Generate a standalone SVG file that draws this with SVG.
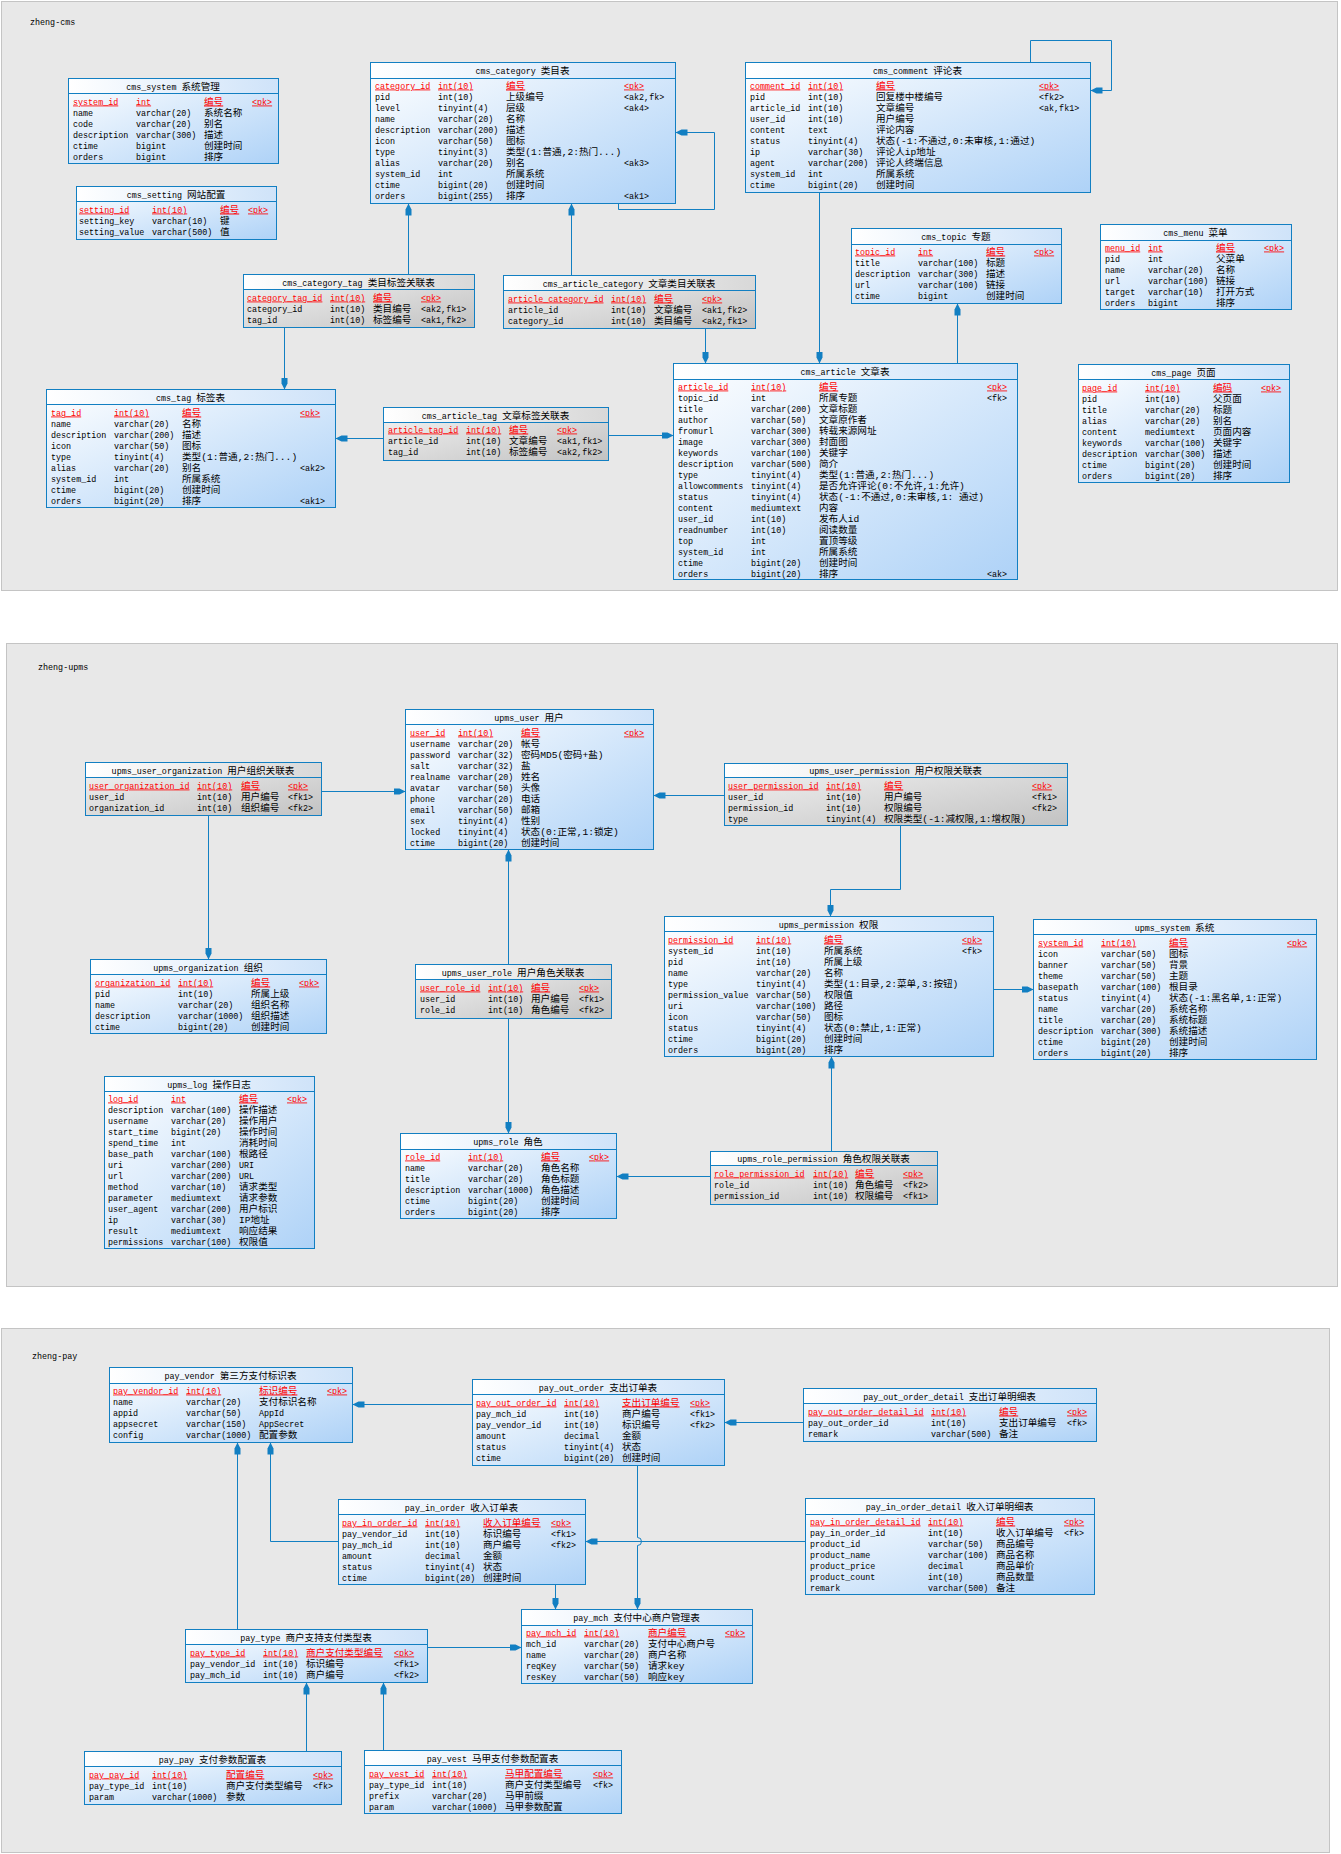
<svg xmlns="http://www.w3.org/2000/svg" width="1341" height="1854" viewBox="0 0 1341 1854">
<defs>
<linearGradient id="hB" x1="0" y1="0" x2="1" y2="0"><stop offset="0" stop-color="#ffffff"/><stop offset="1" stop-color="#cfe3f9"/></linearGradient>
<linearGradient id="bB" x1="0" y1="0" x2="1" y2="1"><stop offset="0" stop-color="#ffffff"/><stop offset="1" stop-color="#aed2f7"/></linearGradient>
<linearGradient id="hG" x1="0" y1="0" x2="1" y2="0"><stop offset="0" stop-color="#ffffff"/><stop offset="1" stop-color="#d8d8d8"/></linearGradient>
<linearGradient id="bG" x1="0" y1="0" x2="1" y2="1"><stop offset="0" stop-color="#f4f4f4"/><stop offset="1" stop-color="#c2c2c2"/></linearGradient>
<marker id="ar" markerUnits="userSpaceOnUse" markerWidth="12" markerHeight="8" viewBox="0 0 12 8" refX="12" refY="4" orient="auto"><path d="M12,4 L6,1 L0,1 L0,7 L6,7 Z" fill="#127fc2"/></marker>
</defs>
<style>
text{font-family:"Liberation Mono","Noto Sans CJK SC",monospace;font-size:8.4px;fill:#000}
.k{font-size:9.6px}
.pk{fill:#ff0000;text-decoration:underline}
.hd{text-anchor:middle}
.panel{fill:#e8e8e8;stroke:#c4c4c4;stroke-width:1}
.ob{fill:none;stroke:#127fc2;stroke-width:1}
.sep{stroke:#127fc2;stroke-width:1}
.c{fill:none;stroke:#127fc2;stroke-width:1;marker-end:url(#ar)}
</style>
<rect width="1341" height="1854" fill="#ffffff"/>
<g id="panels">
<rect class="panel" x="1.5" y="1.5" width="1336" height="589"/>
<rect class="panel" x="6.5" y="643.5" width="1331" height="643"/>
<rect class="panel" x="1.5" y="1328.5" width="1328" height="524"/>
<text x="30" y="25">zheng-cms</text>
<text x="38" y="670">zheng-upms</text>
<text x="32" y="1359">zheng-pay</text>
</g>

<g id="connectors">
<path class="c" d="M618.5,203 V209.5 H714.5 V132.5 H675.5"/>
<path class="c" d="M408.5,274 V203.5"/>
<path class="c" d="M571.5,275 V203.5"/>
<path class="c" d="M284.5,327 V389.5"/>
<path class="c" d="M705.5,328 V363.5"/>
<path class="c" d="M383,438.5 H335.5"/>
<path class="c" d="M608,435.5 H673.5"/>
<path class="c" d="M819.5,192 V363.5"/>
<path class="c" d="M957.5,363 V303.5"/>
<path class="c" d="M1030.5,62 V40.5 H1111.5 V90.5 H1090.5"/>

<path class="c" d="M321,791.5 H405.5"/>
<path class="c" d="M208.5,815 V959.5"/>
<path class="c" d="M724,795.5 H653.5"/>
<path class="c" d="M900.5,825 V889.5 H830.5 V916.5"/>
<path class="c" d="M993,989.5 H1033.5"/>
<path class="c" d="M508.5,964 V849.5"/>
<path class="c" d="M508.5,1018 V1133.5"/>
<path class="c" d="M831.5,1151 V1056.5"/>
<path class="c" d="M710,1176.5 H616.5"/>

<path class="c" d="M472,1404.5 H352.5"/>
<path class="c" d="M803,1422.5 H724.5"/>
<path class="c" d="M338,1541.5 H270.5 V1442.5"/>
<path class="c" d="M805,1541.5 H585.5"/>
<path class="c" d="M637.5,1465 V1537.5 A4,4 0 0 1 637.5,1545.5 V1609.5"/>
<path class="c" d="M555.5,1584 V1609.5"/>
<path class="c" d="M237.5,1629 V1442.5"/>
<path class="c" d="M427,1647.5 H521.5"/>
<path class="c" d="M306.5,1751 V1682.5"/>
<path class="c" d="M383.5,1750 V1682.5"/>
</g>

<!-- ===== zheng-cms ===== -->
<g id="cms_system">
<rect x="68.5" y="78.5" width="210" height="85" fill="url(#bB)"/><rect x="68.5" y="78.5" width="210" height="15" fill="url(#hB)"/><rect class="ob" x="68.5" y="78.5" width="210" height="85"/><line class="sep" x1="68.5" y1="93.5" x2="278.5" y2="93.5"/>
<text class="hd" x="173" y="89.5">cms_system <tspan class="k">系统管理</tspan></text>
<text class="pk" y="104.5"><tspan x="73">system_id</tspan><tspan x="136">int</tspan><tspan x="204" class="k">编号</tspan><tspan x="252">&lt;pk&gt;</tspan></text>
<text y="115.5"><tspan x="73">name</tspan><tspan x="136">varchar(20)</tspan><tspan x="204" class="k">系统名称</tspan></text>
<text y="126.5"><tspan x="73">code</tspan><tspan x="136">varchar(20)</tspan><tspan x="204" class="k">别名</tspan></text>
<text y="137.5"><tspan x="73">description</tspan><tspan x="136">varchar(300)</tspan><tspan x="204" class="k">描述</tspan></text>
<text y="148.5"><tspan x="73">ctime</tspan><tspan x="136">bigint</tspan><tspan x="204" class="k">创建时间</tspan></text>
<text y="159.5"><tspan x="73">orders</tspan><tspan x="136">bigint</tspan><tspan x="204" class="k">排序</tspan></text>
</g>

<g id="cms_setting">
<rect x="76.5" y="186.5" width="200" height="53" fill="url(#bB)"/><rect x="76.5" y="186.5" width="200" height="15" fill="url(#hB)"/><rect class="ob" x="76.5" y="186.5" width="200" height="53"/><line class="sep" x1="76.5" y1="201.5" x2="276.5" y2="201.5"/>
<text class="hd" x="176" y="197.5">cms_setting <tspan class="k">网站配置</tspan></text>
<text class="pk" y="212.5"><tspan x="79">setting_id</tspan><tspan x="152">int(10)</tspan><tspan x="220" class="k">编号</tspan><tspan x="248">&lt;pk&gt;</tspan></text>
<text y="223.5"><tspan x="79">setting_key</tspan><tspan x="152">varchar(10)</tspan><tspan x="220" class="k">键</tspan></text>
<text y="234.5"><tspan x="79">setting_value</tspan><tspan x="152">varchar(500)</tspan><tspan x="220" class="k">值</tspan></text>
</g>

<g id="cms_category">
<rect x="370.5" y="62.5" width="305" height="141" fill="url(#bB)"/><rect x="370.5" y="62.5" width="305" height="16" fill="url(#hB)"/><rect class="ob" x="370.5" y="62.5" width="305" height="141"/><line class="sep" x1="370.5" y1="78.5" x2="675.5" y2="78.5"/>
<text class="hd" x="522.5" y="74">cms_category <tspan class="k">类目表</tspan></text>
<text class="pk" y="88.5"><tspan x="375">category_id</tspan><tspan x="438">int(10)</tspan><tspan x="506" class="k">编号</tspan><tspan x="624">&lt;pk&gt;</tspan></text>
<text y="99.5"><tspan x="375">pid</tspan><tspan x="438">int(10)</tspan><tspan x="506" class="k">上级编号</tspan><tspan x="624">&lt;ak2,fk&gt;</tspan></text>
<text y="110.5"><tspan x="375">level</tspan><tspan x="438">tinyint(4)</tspan><tspan x="506" class="k">层级</tspan><tspan x="624">&lt;ak4&gt;</tspan></text>
<text y="121.5"><tspan x="375">name</tspan><tspan x="438">varchar(20)</tspan><tspan x="506" class="k">名称</tspan></text>
<text y="132.5"><tspan x="375">description</tspan><tspan x="438">varchar(200)</tspan><tspan x="506" class="k">描述</tspan></text>
<text y="143.5"><tspan x="375">icon</tspan><tspan x="438">varchar(50)</tspan><tspan x="506" class="k">图标</tspan></text>
<text y="154.5"><tspan x="375">type</tspan><tspan x="438">tinyint(3)</tspan><tspan x="506" class="k">类型(1:普通,2:热门...)</tspan></text>
<text y="165.5"><tspan x="375">alias</tspan><tspan x="438">varchar(20)</tspan><tspan x="506" class="k">别名</tspan><tspan x="624">&lt;ak3&gt;</tspan></text>
<text y="176.5"><tspan x="375">system_id</tspan><tspan x="438">int</tspan><tspan x="506" class="k">所属系统</tspan></text>
<text y="187.5"><tspan x="375">ctime</tspan><tspan x="438">bigint(20)</tspan><tspan x="506" class="k">创建时间</tspan></text>
<text y="198.5"><tspan x="375">orders</tspan><tspan x="438">bigint(255)</tspan><tspan x="506" class="k">排序</tspan><tspan x="624">&lt;ak1&gt;</tspan></text>
</g>

<g id="cms_comment">
<rect x="745.5" y="62.5" width="345" height="130" fill="url(#bB)"/><rect x="745.5" y="62.5" width="345" height="16" fill="url(#hB)"/><rect class="ob" x="745.5" y="62.5" width="345" height="130"/><line class="sep" x1="745.5" y1="78.5" x2="1090.5" y2="78.5"/>
<text class="hd" x="917.5" y="74">cms_comment <tspan class="k">评论表</tspan></text>
<text class="pk" y="88.5"><tspan x="750">comment_id</tspan><tspan x="808">int(10)</tspan><tspan x="876" class="k">编号</tspan><tspan x="1039">&lt;pk&gt;</tspan></text>
<text y="99.5"><tspan x="750">pid</tspan><tspan x="808">int(10)</tspan><tspan x="876" class="k">回复楼中楼编号</tspan><tspan x="1039">&lt;fk2&gt;</tspan></text>
<text y="110.5"><tspan x="750">article_id</tspan><tspan x="808">int(10)</tspan><tspan x="876" class="k">文章编号</tspan><tspan x="1039">&lt;ak,fk1&gt;</tspan></text>
<text y="121.5"><tspan x="750">user_id</tspan><tspan x="808">int(10)</tspan><tspan x="876" class="k">用户编号</tspan></text>
<text y="132.5"><tspan x="750">content</tspan><tspan x="808">text</tspan><tspan x="876" class="k">评论内容</tspan></text>
<text y="143.5"><tspan x="750">status</tspan><tspan x="808">tinyint(4)</tspan><tspan x="876" class="k">状态(-1:不通过,0:未审核,1:通过)</tspan></text>
<text y="154.5"><tspan x="750">ip</tspan><tspan x="808">varchar(30)</tspan><tspan x="876" class="k">评论人ip地址</tspan></text>
<text y="165.5"><tspan x="750">agent</tspan><tspan x="808">varchar(200)</tspan><tspan x="876" class="k">评论人终端信息</tspan></text>
<text y="176.5"><tspan x="750">system_id</tspan><tspan x="808">int</tspan><tspan x="876" class="k">所属系统</tspan></text>
<text y="187.5"><tspan x="750">ctime</tspan><tspan x="808">bigint(20)</tspan><tspan x="876" class="k">创建时间</tspan></text>
</g>

<g id="cms_topic">
<rect x="851.5" y="228.5" width="210" height="75" fill="url(#bB)"/><rect x="851.5" y="228.5" width="210" height="16" fill="url(#hB)"/><rect class="ob" x="851.5" y="228.5" width="210" height="75"/><line class="sep" x1="851.5" y1="244.5" x2="1061.5" y2="244.5"/>
<text class="hd" x="956" y="240">cms_topic <tspan class="k">专题</tspan></text>
<text class="pk" y="254.5"><tspan x="855">topic_id</tspan><tspan x="918">int</tspan><tspan x="986" class="k">编号</tspan><tspan x="1034">&lt;pk&gt;</tspan></text>
<text y="265.5"><tspan x="855">title</tspan><tspan x="918">varchar(100)</tspan><tspan x="986" class="k">标题</tspan></text>
<text y="276.5"><tspan x="855">description</tspan><tspan x="918">varchar(300)</tspan><tspan x="986" class="k">描述</tspan></text>
<text y="287.5"><tspan x="855">url</tspan><tspan x="918">varchar(100)</tspan><tspan x="986" class="k">链接</tspan></text>
<text y="298.5"><tspan x="855">ctime</tspan><tspan x="918">bigint</tspan><tspan x="986" class="k">创建时间</tspan></text>
</g>

<g id="cms_menu">
<rect x="1100.5" y="224.5" width="191" height="85" fill="url(#bB)"/><rect x="1100.5" y="224.5" width="191" height="16" fill="url(#hB)"/><rect class="ob" x="1100.5" y="224.5" width="191" height="85"/><line class="sep" x1="1100.5" y1="240.5" x2="1291.5" y2="240.5"/>
<text class="hd" x="1195.5" y="236">cms_menu <tspan class="k">菜单</tspan></text>
<text class="pk" y="250.5"><tspan x="1105">menu_id</tspan><tspan x="1148">int</tspan><tspan x="1216" class="k">编号</tspan><tspan x="1264">&lt;pk&gt;</tspan></text>
<text y="261.5"><tspan x="1105">pid</tspan><tspan x="1148">int</tspan><tspan x="1216" class="k">父菜单</tspan></text>
<text y="272.5"><tspan x="1105">name</tspan><tspan x="1148">varchar(20)</tspan><tspan x="1216" class="k">名称</tspan></text>
<text y="283.5"><tspan x="1105">url</tspan><tspan x="1148">varchar(100)</tspan><tspan x="1216" class="k">链接</tspan></text>
<text y="294.5"><tspan x="1105">target</tspan><tspan x="1148">varchar(10)</tspan><tspan x="1216" class="k">打开方式</tspan></text>
<text y="305.5"><tspan x="1105">orders</tspan><tspan x="1148">bigint</tspan><tspan x="1216" class="k">排序</tspan></text>
</g>

<g id="cms_category_tag">
<rect x="243.5" y="274.5" width="231" height="53" fill="url(#bG)"/><rect x="243.5" y="274.5" width="231" height="15" fill="url(#hG)"/><rect class="ob" x="243.5" y="274.5" width="231" height="53"/><line class="sep" x1="243.5" y1="289.5" x2="474.5" y2="289.5"/>
<text class="hd" x="358.5" y="285.5">cms_category_tag <tspan class="k">类目标签关联表</tspan></text>
<text class="pk" y="300.5"><tspan x="247">category_tag_id</tspan><tspan x="330">int(10)</tspan><tspan x="373" class="k">编号</tspan><tspan x="421">&lt;pk&gt;</tspan></text>
<text y="311.5"><tspan x="247">category_id</tspan><tspan x="330">int(10)</tspan><tspan x="373" class="k">类目编号</tspan><tspan x="421">&lt;ak2,fk1&gt;</tspan></text>
<text y="322.5"><tspan x="247">tag_id</tspan><tspan x="330">int(10)</tspan><tspan x="373" class="k">标签编号</tspan><tspan x="421">&lt;ak1,fk2&gt;</tspan></text>
</g>

<g id="cms_article_category">
<rect x="503.5" y="275.5" width="252" height="53" fill="url(#bG)"/><rect x="503.5" y="275.5" width="252" height="15" fill="url(#hG)"/><rect class="ob" x="503.5" y="275.5" width="252" height="53"/><line class="sep" x1="503.5" y1="290.5" x2="755.5" y2="290.5"/>
<text class="hd" x="629" y="286.5">cms_article_category <tspan class="k">文章类目关联表</tspan></text>
<text class="pk" y="301.5"><tspan x="508">article_category_id</tspan><tspan x="611">int(10)</tspan><tspan x="654" class="k">编号</tspan><tspan x="702">&lt;pk&gt;</tspan></text>
<text y="312.5"><tspan x="508">article_id</tspan><tspan x="611">int(10)</tspan><tspan x="654" class="k">文章编号</tspan><tspan x="702">&lt;ak1,fk2&gt;</tspan></text>
<text y="323.5"><tspan x="508">category_id</tspan><tspan x="611">int(10)</tspan><tspan x="654" class="k">类目编号</tspan><tspan x="702">&lt;ak2,fk1&gt;</tspan></text>
</g>

<g id="cms_tag">
<rect x="46.5" y="389.5" width="289" height="118" fill="url(#bB)"/><rect x="46.5" y="389.5" width="289" height="15" fill="url(#hB)"/><rect class="ob" x="46.5" y="389.5" width="289" height="118"/><line class="sep" x1="46.5" y1="404.5" x2="335.5" y2="404.5"/>
<text class="hd" x="190.5" y="400.5">cms_tag <tspan class="k">标签表</tspan></text>
<text class="pk" y="415.5"><tspan x="51">tag_id</tspan><tspan x="114">int(10)</tspan><tspan x="182" class="k">编号</tspan><tspan x="300">&lt;pk&gt;</tspan></text>
<text y="426.5"><tspan x="51">name</tspan><tspan x="114">varchar(20)</tspan><tspan x="182" class="k">名称</tspan></text>
<text y="437.5"><tspan x="51">description</tspan><tspan x="114">varchar(200)</tspan><tspan x="182" class="k">描述</tspan></text>
<text y="448.5"><tspan x="51">icon</tspan><tspan x="114">varchar(50)</tspan><tspan x="182" class="k">图标</tspan></text>
<text y="459.5"><tspan x="51">type</tspan><tspan x="114">tinyint(4)</tspan><tspan x="182" class="k">类型(1:普通,2:热门...)</tspan></text>
<text y="470.5"><tspan x="51">alias</tspan><tspan x="114">varchar(20)</tspan><tspan x="182" class="k">别名</tspan><tspan x="300">&lt;ak2&gt;</tspan></text>
<text y="481.5"><tspan x="51">system_id</tspan><tspan x="114">int</tspan><tspan x="182" class="k">所属系统</tspan></text>
<text y="492.5"><tspan x="51">ctime</tspan><tspan x="114">bigint(20)</tspan><tspan x="182" class="k">创建时间</tspan></text>
<text y="503.5"><tspan x="51">orders</tspan><tspan x="114">bigint(20)</tspan><tspan x="182" class="k">排序</tspan><tspan x="300">&lt;ak1&gt;</tspan></text>
</g>

<g id="cms_article_tag">
<rect x="383.5" y="407.5" width="225" height="53" fill="url(#bG)"/><rect x="383.5" y="407.5" width="225" height="15" fill="url(#hG)"/><rect class="ob" x="383.5" y="407.5" width="225" height="53"/><line class="sep" x1="383.5" y1="422.5" x2="608.5" y2="422.5"/>
<text class="hd" x="495.5" y="418.5">cms_article_tag <tspan class="k">文章标签关联表</tspan></text>
<text class="pk" y="432.5"><tspan x="388">article_tag_id</tspan><tspan x="466">int(10)</tspan><tspan x="509" class="k">编号</tspan><tspan x="557">&lt;pk&gt;</tspan></text>
<text y="443.5"><tspan x="388">article_id</tspan><tspan x="466">int(10)</tspan><tspan x="509" class="k">文章编号</tspan><tspan x="557">&lt;ak1,fk1&gt;</tspan></text>
<text y="454.5"><tspan x="388">tag_id</tspan><tspan x="466">int(10)</tspan><tspan x="509" class="k">标签编号</tspan><tspan x="557">&lt;ak2,fk2&gt;</tspan></text>
</g>

<g id="cms_article">
<rect x="673.5" y="363.5" width="344" height="216" fill="url(#bB)"/><rect x="673.5" y="363.5" width="344" height="16" fill="url(#hB)"/><rect class="ob" x="673.5" y="363.5" width="344" height="216"/><line class="sep" x1="673.5" y1="379.5" x2="1017.5" y2="379.5"/>
<text class="hd" x="845" y="375">cms_article <tspan class="k">文章表</tspan></text>
<text class="pk" y="389.5"><tspan x="678">article_id</tspan><tspan x="751">int(10)</tspan><tspan x="819" class="k">编号</tspan><tspan x="987">&lt;pk&gt;</tspan></text>
<text y="400.5"><tspan x="678">topic_id</tspan><tspan x="751">int</tspan><tspan x="819" class="k">所属专题</tspan><tspan x="987">&lt;fk&gt;</tspan></text>
<text y="411.5"><tspan x="678">title</tspan><tspan x="751">varchar(200)</tspan><tspan x="819" class="k">文章标题</tspan></text>
<text y="422.5"><tspan x="678">author</tspan><tspan x="751">varchar(50)</tspan><tspan x="819" class="k">文章原作者</tspan></text>
<text y="433.5"><tspan x="678">fromurl</tspan><tspan x="751">varchar(300)</tspan><tspan x="819" class="k">转载来源网址</tspan></text>
<text y="444.5"><tspan x="678">image</tspan><tspan x="751">varchar(300)</tspan><tspan x="819" class="k">封面图</tspan></text>
<text y="455.5"><tspan x="678">keywords</tspan><tspan x="751">varchar(100)</tspan><tspan x="819" class="k">关键字</tspan></text>
<text y="466.5"><tspan x="678">description</tspan><tspan x="751">varchar(500)</tspan><tspan x="819" class="k">简介</tspan></text>
<text y="477.5"><tspan x="678">type</tspan><tspan x="751">tinyint(4)</tspan><tspan x="819" class="k">类型(1:普通,2:热门...)</tspan></text>
<text y="488.5"><tspan x="678">allowcomments</tspan><tspan x="751">tinyint(4)</tspan><tspan x="819" class="k">是否允许评论(0:不允许,1:允许)</tspan></text>
<text y="499.5"><tspan x="678">status</tspan><tspan x="751">tinyint(4)</tspan><tspan x="819" class="k">状态(-1:不通过,0:未审核,1: 通过)</tspan></text>
<text y="510.5"><tspan x="678">content</tspan><tspan x="751">mediumtext</tspan><tspan x="819" class="k">内容</tspan></text>
<text y="521.5"><tspan x="678">user_id</tspan><tspan x="751">int(10)</tspan><tspan x="819" class="k">发布人id</tspan></text>
<text y="532.5"><tspan x="678">readnumber</tspan><tspan x="751">int(10)</tspan><tspan x="819" class="k">阅读数量</tspan></text>
<text y="543.5"><tspan x="678">top</tspan><tspan x="751">int</tspan><tspan x="819" class="k">置顶等级</tspan></text>
<text y="554.5"><tspan x="678">system_id</tspan><tspan x="751">int</tspan><tspan x="819" class="k">所属系统</tspan></text>
<text y="565.5"><tspan x="678">ctime</tspan><tspan x="751">bigint(20)</tspan><tspan x="819" class="k">创建时间</tspan></text>
<text y="576.5"><tspan x="678">orders</tspan><tspan x="751">bigint(20)</tspan><tspan x="819" class="k">排序</tspan><tspan x="987">&lt;ak&gt;</tspan></text>
</g>

<g id="cms_page">
<rect x="1078.5" y="364.5" width="211" height="118" fill="url(#bB)"/><rect x="1078.5" y="364.5" width="211" height="15" fill="url(#hB)"/><rect class="ob" x="1078.5" y="364.5" width="211" height="118"/><line class="sep" x1="1078.5" y1="379.5" x2="1289.5" y2="379.5"/>
<text class="hd" x="1183.5" y="375.5">cms_page <tspan class="k">页面</tspan></text>
<text class="pk" y="390.5"><tspan x="1082">page_id</tspan><tspan x="1145">int(10)</tspan><tspan x="1213" class="k">编码</tspan><tspan x="1261">&lt;pk&gt;</tspan></text>
<text y="401.5"><tspan x="1082">pid</tspan><tspan x="1145">int(10)</tspan><tspan x="1213" class="k">父页面</tspan></text>
<text y="412.5"><tspan x="1082">title</tspan><tspan x="1145">varchar(20)</tspan><tspan x="1213" class="k">标题</tspan></text>
<text y="423.5"><tspan x="1082">alias</tspan><tspan x="1145">varchar(20)</tspan><tspan x="1213" class="k">别名</tspan></text>
<text y="434.5"><tspan x="1082">content</tspan><tspan x="1145">mediumtext</tspan><tspan x="1213" class="k">页面内容</tspan></text>
<text y="445.5"><tspan x="1082">keywords</tspan><tspan x="1145">varchar(100)</tspan><tspan x="1213" class="k">关键字</tspan></text>
<text y="456.5"><tspan x="1082">description</tspan><tspan x="1145">varchar(300)</tspan><tspan x="1213" class="k">描述</tspan></text>
<text y="467.5"><tspan x="1082">ctime</tspan><tspan x="1145">bigint(20)</tspan><tspan x="1213" class="k">创建时间</tspan></text>
<text y="478.5"><tspan x="1082">orders</tspan><tspan x="1145">bigint(20)</tspan><tspan x="1213" class="k">排序</tspan></text>
</g>

<!-- ===== zheng-upms ===== -->
<g id="upms_user">
<rect x="405.5" y="709.5" width="248" height="140" fill="url(#bB)"/><rect x="405.5" y="709.5" width="248" height="15" fill="url(#hB)"/><rect class="ob" x="405.5" y="709.5" width="248" height="140"/><line class="sep" x1="405.5" y1="724.5" x2="653.5" y2="724.5"/>
<text class="hd" x="529" y="720.5">upms_user <tspan class="k">用户</tspan></text>
<text class="pk" y="735.5"><tspan x="410">user_id</tspan><tspan x="458">int(10)</tspan><tspan x="521" class="k">编号</tspan><tspan x="624">&lt;pk&gt;</tspan></text>
<text y="746.5"><tspan x="410">username</tspan><tspan x="458">varchar(20)</tspan><tspan x="521" class="k">帐号</tspan></text>
<text y="757.5"><tspan x="410">password</tspan><tspan x="458">varchar(32)</tspan><tspan x="521" class="k">密码MD5(密码+盐)</tspan></text>
<text y="768.5"><tspan x="410">salt</tspan><tspan x="458">varchar(32)</tspan><tspan x="521" class="k">盐</tspan></text>
<text y="779.5"><tspan x="410">realname</tspan><tspan x="458">varchar(20)</tspan><tspan x="521" class="k">姓名</tspan></text>
<text y="790.5"><tspan x="410">avatar</tspan><tspan x="458">varchar(50)</tspan><tspan x="521" class="k">头像</tspan></text>
<text y="801.5"><tspan x="410">phone</tspan><tspan x="458">varchar(20)</tspan><tspan x="521" class="k">电话</tspan></text>
<text y="812.5"><tspan x="410">email</tspan><tspan x="458">varchar(50)</tspan><tspan x="521" class="k">邮箱</tspan></text>
<text y="823.5"><tspan x="410">sex</tspan><tspan x="458">tinyint(4)</tspan><tspan x="521" class="k">性别</tspan></text>
<text y="834.5"><tspan x="410">locked</tspan><tspan x="458">tinyint(4)</tspan><tspan x="521" class="k">状态(0:正常,1:锁定)</tspan></text>
<text y="845.5"><tspan x="410">ctime</tspan><tspan x="458">bigint(20)</tspan><tspan x="521" class="k">创建时间</tspan></text>
</g>

<g id="upms_user_organization">
<rect x="85.5" y="762.5" width="236" height="53" fill="url(#bG)"/><rect x="85.5" y="762.5" width="236" height="15" fill="url(#hG)"/><rect class="ob" x="85.5" y="762.5" width="236" height="53"/><line class="sep" x1="85.5" y1="777.5" x2="321.5" y2="777.5"/>
<text class="hd" x="203" y="773.5">upms_user_organization <tspan class="k">用户组织关联表</tspan></text>
<text class="pk" y="788.5"><tspan x="89">user_organization_id</tspan><tspan x="197">int(10)</tspan><tspan x="241" class="k">编号</tspan><tspan x="288">&lt;pk&gt;</tspan></text>
<text y="799.5"><tspan x="89">user_id</tspan><tspan x="197">int(10)</tspan><tspan x="241" class="k">用户编号</tspan><tspan x="288">&lt;fk1&gt;</tspan></text>
<text y="810.5"><tspan x="89">organization_id</tspan><tspan x="197">int(10)</tspan><tspan x="241" class="k">组织编号</tspan><tspan x="288">&lt;fk2&gt;</tspan></text>
</g>

<g id="upms_user_permission">
<rect x="724.5" y="763.5" width="343" height="62" fill="url(#bG)"/><rect x="724.5" y="763.5" width="343" height="14" fill="url(#hG)"/><rect class="ob" x="724.5" y="763.5" width="343" height="62"/><line class="sep" x1="724.5" y1="777.5" x2="1067.5" y2="777.5"/>
<text class="hd" x="895.5" y="774">upms_user_permission <tspan class="k">用户权限关联表</tspan></text>
<text class="pk" y="788.5"><tspan x="728">user_permission_id</tspan><tspan x="826">int(10)</tspan><tspan x="884" class="k">编号</tspan><tspan x="1032">&lt;pk&gt;</tspan></text>
<text y="799.5"><tspan x="728">user_id</tspan><tspan x="826">int(10)</tspan><tspan x="884" class="k">用户编号</tspan><tspan x="1032">&lt;fk1&gt;</tspan></text>
<text y="810.5"><tspan x="728">permission_id</tspan><tspan x="826">int(10)</tspan><tspan x="884" class="k">权限编号</tspan><tspan x="1032">&lt;fk2&gt;</tspan></text>
<text y="821.5"><tspan x="728">type</tspan><tspan x="826">tinyint(4)</tspan><tspan x="884" class="k">权限类型(-1:减权限,1:增权限)</tspan></text>
</g>

<g id="upms_permission">
<rect x="664.5" y="916.5" width="329" height="140" fill="url(#bB)"/><rect x="664.5" y="916.5" width="329" height="15" fill="url(#hB)"/><rect class="ob" x="664.5" y="916.5" width="329" height="140"/><line class="sep" x1="664.5" y1="931.5" x2="993.5" y2="931.5"/>
<text class="hd" x="828.5" y="927.5">upms_permission <tspan class="k">权限</tspan></text>
<text class="pk" y="942.5"><tspan x="668">permission_id</tspan><tspan x="756">int(10)</tspan><tspan x="824" class="k">编号</tspan><tspan x="962">&lt;pk&gt;</tspan></text>
<text y="953.5"><tspan x="668">system_id</tspan><tspan x="756">int(10)</tspan><tspan x="824" class="k">所属系统</tspan><tspan x="962">&lt;fk&gt;</tspan></text>
<text y="964.5"><tspan x="668">pid</tspan><tspan x="756">int(10)</tspan><tspan x="824" class="k">所属上级</tspan></text>
<text y="975.5"><tspan x="668">name</tspan><tspan x="756">varchar(20)</tspan><tspan x="824" class="k">名称</tspan></text>
<text y="986.5"><tspan x="668">type</tspan><tspan x="756">tinyint(4)</tspan><tspan x="824" class="k">类型(1:目录,2:菜单,3:按钮)</tspan></text>
<text y="997.5"><tspan x="668">permission_value</tspan><tspan x="756">varchar(50)</tspan><tspan x="824" class="k">权限值</tspan></text>
<text y="1008.5"><tspan x="668">uri</tspan><tspan x="756">varchar(100)</tspan><tspan x="824" class="k">路径</tspan></text>
<text y="1019.5"><tspan x="668">icon</tspan><tspan x="756">varchar(50)</tspan><tspan x="824" class="k">图标</tspan></text>
<text y="1030.5"><tspan x="668">status</tspan><tspan x="756">tinyint(4)</tspan><tspan x="824" class="k">状态(0:禁止,1:正常)</tspan></text>
<text y="1041.5"><tspan x="668">ctime</tspan><tspan x="756">bigint(20)</tspan><tspan x="824" class="k">创建时间</tspan></text>
<text y="1052.5"><tspan x="668">orders</tspan><tspan x="756">bigint(20)</tspan><tspan x="824" class="k">排序</tspan></text>
</g>

<g id="upms_system">
<rect x="1033.5" y="919.5" width="283" height="140" fill="url(#bB)"/><rect x="1033.5" y="919.5" width="283" height="15" fill="url(#hB)"/><rect class="ob" x="1033.5" y="919.5" width="283" height="140"/><line class="sep" x1="1033.5" y1="934.5" x2="1316.5" y2="934.5"/>
<text class="hd" x="1174.5" y="930.5">upms_system <tspan class="k">系统</tspan></text>
<text class="pk" y="945.5"><tspan x="1038">system_id</tspan><tspan x="1101">int(10)</tspan><tspan x="1169" class="k">编号</tspan><tspan x="1287">&lt;pk&gt;</tspan></text>
<text y="956.5"><tspan x="1038">icon</tspan><tspan x="1101">varchar(50)</tspan><tspan x="1169" class="k">图标</tspan></text>
<text y="967.5"><tspan x="1038">banner</tspan><tspan x="1101">varchar(50)</tspan><tspan x="1169" class="k">背景</tspan></text>
<text y="978.5"><tspan x="1038">theme</tspan><tspan x="1101">varchar(50)</tspan><tspan x="1169" class="k">主题</tspan></text>
<text y="989.5"><tspan x="1038">basepath</tspan><tspan x="1101">varchar(100)</tspan><tspan x="1169" class="k">根目录</tspan></text>
<text y="1000.5"><tspan x="1038">status</tspan><tspan x="1101">tinyint(4)</tspan><tspan x="1169" class="k">状态(-1:黑名单,1:正常)</tspan></text>
<text y="1011.5"><tspan x="1038">name</tspan><tspan x="1101">varchar(20)</tspan><tspan x="1169" class="k">系统名称</tspan></text>
<text y="1022.5"><tspan x="1038">title</tspan><tspan x="1101">varchar(20)</tspan><tspan x="1169" class="k">系统标题</tspan></text>
<text y="1033.5"><tspan x="1038">description</tspan><tspan x="1101">varchar(300)</tspan><tspan x="1169" class="k">系统描述</tspan></text>
<text y="1044.5"><tspan x="1038">ctime</tspan><tspan x="1101">bigint(20)</tspan><tspan x="1169" class="k">创建时间</tspan></text>
<text y="1055.5"><tspan x="1038">orders</tspan><tspan x="1101">bigint(20)</tspan><tspan x="1169" class="k">排序</tspan></text>
</g>

<g id="upms_organization">
<rect x="90.5" y="959.5" width="236" height="74" fill="url(#bB)"/><rect x="90.5" y="959.5" width="236" height="15" fill="url(#hB)"/><rect class="ob" x="90.5" y="959.5" width="236" height="74"/><line class="sep" x1="90.5" y1="974.5" x2="326.5" y2="974.5"/>
<text class="hd" x="208" y="970.5">upms_organization <tspan class="k">组织</tspan></text>
<text class="pk" y="985.5"><tspan x="95">organization_id</tspan><tspan x="178">int(10)</tspan><tspan x="251" class="k">编号</tspan><tspan x="299">&lt;pk&gt;</tspan></text>
<text y="996.5"><tspan x="95">pid</tspan><tspan x="178">int(10)</tspan><tspan x="251" class="k">所属上级</tspan></text>
<text y="1007.5"><tspan x="95">name</tspan><tspan x="178">varchar(20)</tspan><tspan x="251" class="k">组织名称</tspan></text>
<text y="1018.5"><tspan x="95">description</tspan><tspan x="178">varchar(1000)</tspan><tspan x="251" class="k">组织描述</tspan></text>
<text y="1029.5"><tspan x="95">ctime</tspan><tspan x="178">bigint(20)</tspan><tspan x="251" class="k">创建时间</tspan></text>
</g>

<g id="upms_user_role">
<rect x="415.5" y="964.5" width="196" height="54" fill="url(#bG)"/><rect x="415.5" y="964.5" width="196" height="15" fill="url(#hG)"/><rect class="ob" x="415.5" y="964.5" width="196" height="54"/><line class="sep" x1="415.5" y1="979.5" x2="611.5" y2="979.5"/>
<text class="hd" x="513" y="975.5">upms_user_role <tspan class="k">用户角色关联表</tspan></text>
<text class="pk" y="990.5"><tspan x="420">user_role_id</tspan><tspan x="488">int(10)</tspan><tspan x="531" class="k">编号</tspan><tspan x="579">&lt;pk&gt;</tspan></text>
<text y="1001.5"><tspan x="420">user_id</tspan><tspan x="488">int(10)</tspan><tspan x="531" class="k">用户编号</tspan><tspan x="579">&lt;fk1&gt;</tspan></text>
<text y="1012.5"><tspan x="420">role_id</tspan><tspan x="488">int(10)</tspan><tspan x="531" class="k">角色编号</tspan><tspan x="579">&lt;fk2&gt;</tspan></text>
</g>

<g id="upms_log">
<rect x="104.5" y="1076.5" width="210" height="172" fill="url(#bB)"/><rect x="104.5" y="1076.5" width="210" height="15" fill="url(#hB)"/><rect class="ob" x="104.5" y="1076.5" width="210" height="172"/><line class="sep" x1="104.5" y1="1091.5" x2="314.5" y2="1091.5"/>
<text class="hd" x="209" y="1087.5">upms_log <tspan class="k">操作日志</tspan></text>
<text class="pk" y="1101.5"><tspan x="108">log_id</tspan><tspan x="171">int</tspan><tspan x="239" class="k">编号</tspan><tspan x="287">&lt;pk&gt;</tspan></text>
<text y="1112.5"><tspan x="108">description</tspan><tspan x="171">varchar(100)</tspan><tspan x="239" class="k">操作描述</tspan></text>
<text y="1123.5"><tspan x="108">username</tspan><tspan x="171">varchar(20)</tspan><tspan x="239" class="k">操作用户</tspan></text>
<text y="1134.5"><tspan x="108">start_time</tspan><tspan x="171">bigint(20)</tspan><tspan x="239" class="k">操作时间</tspan></text>
<text y="1145.5"><tspan x="108">spend_time</tspan><tspan x="171">int</tspan><tspan x="239" class="k">消耗时间</tspan></text>
<text y="1156.5"><tspan x="108">base_path</tspan><tspan x="171">varchar(100)</tspan><tspan x="239" class="k">根路径</tspan></text>
<text y="1167.5"><tspan x="108">uri</tspan><tspan x="171">varchar(200)</tspan><tspan x="239">URI</tspan></text>
<text y="1178.5"><tspan x="108">url</tspan><tspan x="171">varchar(200)</tspan><tspan x="239">URL</tspan></text>
<text y="1189.5"><tspan x="108">method</tspan><tspan x="171">varchar(10)</tspan><tspan x="239" class="k">请求类型</tspan></text>
<text y="1200.5"><tspan x="108">parameter</tspan><tspan x="171">mediumtext</tspan><tspan x="239" class="k">请求参数</tspan></text>
<text y="1211.5"><tspan x="108">user_agent</tspan><tspan x="171">varchar(200)</tspan><tspan x="239" class="k">用户标识</tspan></text>
<text y="1222.5"><tspan x="108">ip</tspan><tspan x="171">varchar(30)</tspan><tspan x="239" class="k">IP地址</tspan></text>
<text y="1233.5"><tspan x="108">result</tspan><tspan x="171">mediumtext</tspan><tspan x="239" class="k">响应结果</tspan></text>
<text y="1244.5"><tspan x="108">permissions</tspan><tspan x="171">varchar(100)</tspan><tspan x="239" class="k">权限值</tspan></text>
</g>

<g id="upms_role">
<rect x="400.5" y="1133.5" width="216" height="85" fill="url(#bB)"/><rect x="400.5" y="1133.5" width="216" height="16" fill="url(#hB)"/><rect class="ob" x="400.5" y="1133.5" width="216" height="85"/><line class="sep" x1="400.5" y1="1149.5" x2="616.5" y2="1149.5"/>
<text class="hd" x="508" y="1145">upms_role <tspan class="k">角色</tspan></text>
<text class="pk" y="1159.5"><tspan x="405">role_id</tspan><tspan x="468">int(10)</tspan><tspan x="541" class="k">编号</tspan><tspan x="589">&lt;pk&gt;</tspan></text>
<text y="1170.5"><tspan x="405">name</tspan><tspan x="468">varchar(20)</tspan><tspan x="541" class="k">角色名称</tspan></text>
<text y="1181.5"><tspan x="405">title</tspan><tspan x="468">varchar(20)</tspan><tspan x="541" class="k">角色标题</tspan></text>
<text y="1192.5"><tspan x="405">description</tspan><tspan x="468">varchar(1000)</tspan><tspan x="541" class="k">角色描述</tspan></text>
<text y="1203.5"><tspan x="405">ctime</tspan><tspan x="468">bigint(20)</tspan><tspan x="541" class="k">创建时间</tspan></text>
<text y="1214.5"><tspan x="405">orders</tspan><tspan x="468">bigint(20)</tspan><tspan x="541" class="k">排序</tspan></text>
</g>

<g id="upms_role_permission">
<rect x="710.5" y="1151.5" width="227" height="53" fill="url(#bG)"/><rect x="710.5" y="1151.5" width="227" height="14" fill="url(#hG)"/><rect class="ob" x="710.5" y="1151.5" width="227" height="53"/><line class="sep" x1="710.5" y1="1165.5" x2="937.5" y2="1165.5"/>
<text class="hd" x="823.5" y="1162">upms_role_permission <tspan class="k">角色权限关联表</tspan></text>
<text class="pk" y="1176.5"><tspan x="714">role_permission_id</tspan><tspan x="813">int(10)</tspan><tspan x="855" class="k">编号</tspan><tspan x="903">&lt;pk&gt;</tspan></text>
<text y="1187.5"><tspan x="714">role_id</tspan><tspan x="813">int(10)</tspan><tspan x="855" class="k">角色编号</tspan><tspan x="903">&lt;fk2&gt;</tspan></text>
<text y="1198.5"><tspan x="714">permission_id</tspan><tspan x="813">int(10)</tspan><tspan x="855" class="k">权限编号</tspan><tspan x="903">&lt;fk1&gt;</tspan></text>
</g>

<!-- ===== zheng-pay ===== -->
<g id="pay_vendor">
<rect x="109.5" y="1367.5" width="243" height="75" fill="url(#bB)"/><rect x="109.5" y="1367.5" width="243" height="16" fill="url(#hB)"/><rect class="ob" x="109.5" y="1367.5" width="243" height="75"/><line class="sep" x1="109.5" y1="1383.5" x2="352.5" y2="1383.5"/>
<text class="hd" x="230.5" y="1379">pay_vendor <tspan class="k">第三方支付标识表</tspan></text>
<text class="pk" y="1393.5"><tspan x="113">pay_vendor_id</tspan><tspan x="186">int(10)</tspan><tspan x="259" class="k">标识编号</tspan><tspan x="327">&lt;pk&gt;</tspan></text>
<text y="1404.5"><tspan x="113">name</tspan><tspan x="186">varchar(20)</tspan><tspan x="259" class="k">支付标识名称</tspan></text>
<text y="1415.5"><tspan x="113">appid</tspan><tspan x="186">varchar(50)</tspan><tspan x="259">AppId</tspan></text>
<text y="1426.5"><tspan x="113">appsecret</tspan><tspan x="186">varchar(150)</tspan><tspan x="259">AppSecret</tspan></text>
<text y="1437.5"><tspan x="113">config</tspan><tspan x="186">varchar(1000)</tspan><tspan x="259" class="k">配置参数</tspan></text>
</g>

<g id="pay_out_order">
<rect x="472.5" y="1379.5" width="252" height="86" fill="url(#bB)"/><rect x="472.5" y="1379.5" width="252" height="15" fill="url(#hB)"/><rect class="ob" x="472.5" y="1379.5" width="252" height="86"/><line class="sep" x1="472.5" y1="1394.5" x2="724.5" y2="1394.5"/>
<text class="hd" x="598" y="1390.5">pay_out_order <tspan class="k">支出订单表</tspan></text>
<text class="pk" y="1405.5"><tspan x="476">pay_out_order_id</tspan><tspan x="564">int(10)</tspan><tspan x="622" class="k">支出订单编号</tspan><tspan x="690">&lt;pk&gt;</tspan></text>
<text y="1416.5"><tspan x="476">pay_mch_id</tspan><tspan x="564">int(10)</tspan><tspan x="622" class="k">商户编号</tspan><tspan x="690">&lt;fk1&gt;</tspan></text>
<text y="1427.5"><tspan x="476">pay_vendor_id</tspan><tspan x="564">int(10)</tspan><tspan x="622" class="k">标识编号</tspan><tspan x="690">&lt;fk2&gt;</tspan></text>
<text y="1438.5"><tspan x="476">amount</tspan><tspan x="564">decimal</tspan><tspan x="622" class="k">金额</tspan></text>
<text y="1449.5"><tspan x="476">status</tspan><tspan x="564">tinyint(4)</tspan><tspan x="622" class="k">状态</tspan></text>
<text y="1460.5"><tspan x="476">ctime</tspan><tspan x="564">bigint(20)</tspan><tspan x="622" class="k">创建时间</tspan></text>
</g>

<g id="pay_out_order_detail">
<rect x="803.5" y="1388.5" width="293" height="53" fill="url(#bB)"/><rect x="803.5" y="1388.5" width="293" height="15" fill="url(#hB)"/><rect class="ob" x="803.5" y="1388.5" width="293" height="53"/><line class="sep" x1="803.5" y1="1403.5" x2="1096.5" y2="1403.5"/>
<text class="hd" x="949.5" y="1399.5">pay_out_order_detail <tspan class="k">支出订单明细表</tspan></text>
<text class="pk" y="1414.5"><tspan x="808">pay_out_order_detail_id</tspan><tspan x="931">int(10)</tspan><tspan x="999" class="k">编号</tspan><tspan x="1067">&lt;pk&gt;</tspan></text>
<text y="1425.5"><tspan x="808">pay_out_order_id</tspan><tspan x="931">int(10)</tspan><tspan x="999" class="k">支出订单编号</tspan><tspan x="1067">&lt;fk&gt;</tspan></text>
<text y="1436.5"><tspan x="808">remark</tspan><tspan x="931">varchar(500)</tspan><tspan x="999" class="k">备注</tspan></text>
</g>

<g id="pay_in_order">
<rect x="338.5" y="1499.5" width="247" height="85" fill="url(#bB)"/><rect x="338.5" y="1499.5" width="247" height="15" fill="url(#hB)"/><rect class="ob" x="338.5" y="1499.5" width="247" height="85"/><line class="sep" x1="338.5" y1="1514.5" x2="585.5" y2="1514.5"/>
<text class="hd" x="461.5" y="1510.5">pay_in_order <tspan class="k">收入订单表</tspan></text>
<text class="pk" y="1525.5"><tspan x="342">pay_in_order_id</tspan><tspan x="425">int(10)</tspan><tspan x="483" class="k">收入订单编号</tspan><tspan x="551">&lt;pk&gt;</tspan></text>
<text y="1536.5"><tspan x="342">pay_vendor_id</tspan><tspan x="425">int(10)</tspan><tspan x="483" class="k">标识编号</tspan><tspan x="551">&lt;fk1&gt;</tspan></text>
<text y="1547.5"><tspan x="342">pay_mch_id</tspan><tspan x="425">int(10)</tspan><tspan x="483" class="k">商户编号</tspan><tspan x="551">&lt;fk2&gt;</tspan></text>
<text y="1558.5"><tspan x="342">amount</tspan><tspan x="425">decimal</tspan><tspan x="483" class="k">金额</tspan></text>
<text y="1569.5"><tspan x="342">status</tspan><tspan x="425">tinyint(4)</tspan><tspan x="483" class="k">状态</tspan></text>
<text y="1580.5"><tspan x="342">ctime</tspan><tspan x="425">bigint(20)</tspan><tspan x="483" class="k">创建时间</tspan></text>
</g>

<g id="pay_in_order_detail">
<rect x="805.5" y="1498.5" width="289" height="96" fill="url(#bB)"/><rect x="805.5" y="1498.5" width="289" height="16" fill="url(#hB)"/><rect class="ob" x="805.5" y="1498.5" width="289" height="96"/><line class="sep" x1="805.5" y1="1514.5" x2="1094.5" y2="1514.5"/>
<text class="hd" x="949.5" y="1510">pay_in_order_detail <tspan class="k">收入订单明细表</tspan></text>
<text class="pk" y="1524.5"><tspan x="810">pay_in_order_detail_id</tspan><tspan x="928">int(10)</tspan><tspan x="996" class="k">编号</tspan><tspan x="1064">&lt;pk&gt;</tspan></text>
<text y="1535.5"><tspan x="810">pay_in_order_id</tspan><tspan x="928">int(10)</tspan><tspan x="996" class="k">收入订单编号</tspan><tspan x="1064">&lt;fk&gt;</tspan></text>
<text y="1546.5"><tspan x="810">product_id</tspan><tspan x="928">varchar(50)</tspan><tspan x="996" class="k">商品编号</tspan></text>
<text y="1557.5"><tspan x="810">product_name</tspan><tspan x="928">varchar(100)</tspan><tspan x="996" class="k">商品名称</tspan></text>
<text y="1568.5"><tspan x="810">product_price</tspan><tspan x="928">decimal</tspan><tspan x="996" class="k">商品单价</tspan></text>
<text y="1579.5"><tspan x="810">product_count</tspan><tspan x="928">int(10)</tspan><tspan x="996" class="k">商品数量</tspan></text>
<text y="1590.5"><tspan x="810">remark</tspan><tspan x="928">varchar(500)</tspan><tspan x="996" class="k">备注</tspan></text>
</g>

<g id="pay_mch">
<rect x="521.5" y="1609.5" width="231" height="74" fill="url(#bB)"/><rect x="521.5" y="1609.5" width="231" height="16" fill="url(#hB)"/><rect class="ob" x="521.5" y="1609.5" width="231" height="74"/><line class="sep" x1="521.5" y1="1625.5" x2="752.5" y2="1625.5"/>
<text class="hd" x="636.5" y="1621">pay_mch <tspan class="k">支付中心商户管理表</tspan></text>
<text class="pk" y="1635.5"><tspan x="526">pay_mch_id</tspan><tspan x="584">int(10)</tspan><tspan x="648" class="k">商户编号</tspan><tspan x="725">&lt;pk&gt;</tspan></text>
<text y="1646.5"><tspan x="526">mch_id</tspan><tspan x="584">varchar(20)</tspan><tspan x="648" class="k">支付中心商户号</tspan></text>
<text y="1657.5"><tspan x="526">name</tspan><tspan x="584">varchar(20)</tspan><tspan x="648" class="k">商户名称</tspan></text>
<text y="1668.5"><tspan x="526">reqKey</tspan><tspan x="584">varchar(50)</tspan><tspan x="648" class="k">请求key</tspan></text>
<text y="1679.5"><tspan x="526">resKey</tspan><tspan x="584">varchar(50)</tspan><tspan x="648" class="k">响应key</tspan></text>
</g>

<g id="pay_type">
<rect x="185.5" y="1629.5" width="242" height="53" fill="url(#bB)"/><rect x="185.5" y="1629.5" width="242" height="15" fill="url(#hB)"/><rect class="ob" x="185.5" y="1629.5" width="242" height="53"/><line class="sep" x1="185.5" y1="1644.5" x2="427.5" y2="1644.5"/>
<text class="hd" x="306" y="1640.5">pay_type <tspan class="k">商户支持支付类型表</tspan></text>
<text class="pk" y="1655.5"><tspan x="190">pay_type_id</tspan><tspan x="263">int(10)</tspan><tspan x="306" class="k">商户支付类型编号</tspan><tspan x="394">&lt;pk&gt;</tspan></text>
<text y="1666.5"><tspan x="190">pay_vendor_id</tspan><tspan x="263">int(10)</tspan><tspan x="306" class="k">标识编号</tspan><tspan x="394">&lt;fk1&gt;</tspan></text>
<text y="1677.5"><tspan x="190">pay_mch_id</tspan><tspan x="263">int(10)</tspan><tspan x="306" class="k">商户编号</tspan><tspan x="394">&lt;fk2&gt;</tspan></text>
</g>

<g id="pay_pay">
<rect x="84.5" y="1751.5" width="257" height="53" fill="url(#bB)"/><rect x="84.5" y="1751.5" width="257" height="15" fill="url(#hB)"/><rect class="ob" x="84.5" y="1751.5" width="257" height="53"/><line class="sep" x1="84.5" y1="1766.5" x2="341.5" y2="1766.5"/>
<text class="hd" x="212.5" y="1762.5">pay_pay <tspan class="k">支付参数配置表</tspan></text>
<text class="pk" y="1777.5"><tspan x="89">pay_pay_id</tspan><tspan x="152">int(10)</tspan><tspan x="226" class="k">配置编号</tspan><tspan x="313">&lt;pk&gt;</tspan></text>
<text y="1788.5"><tspan x="89">pay_type_id</tspan><tspan x="152">int(10)</tspan><tspan x="226" class="k">商户支付类型编号</tspan><tspan x="313">&lt;fk&gt;</tspan></text>
<text y="1799.5"><tspan x="89">param</tspan><tspan x="152">varchar(1000)</tspan><tspan x="226" class="k">参数</tspan></text>
</g>

<g id="pay_vest">
<rect x="364.5" y="1750.5" width="257" height="63" fill="url(#bB)"/><rect x="364.5" y="1750.5" width="257" height="15" fill="url(#hB)"/><rect class="ob" x="364.5" y="1750.5" width="257" height="63"/><line class="sep" x1="364.5" y1="1765.5" x2="621.5" y2="1765.5"/>
<text class="hd" x="492.5" y="1761.5">pay_vest <tspan class="k">马甲支付参数配置表</tspan></text>
<text class="pk" y="1776.5"><tspan x="369">pay_vest_id</tspan><tspan x="432">int(10)</tspan><tspan x="505" class="k">马甲配置编号</tspan><tspan x="593">&lt;pk&gt;</tspan></text>
<text y="1787.5"><tspan x="369">pay_type_id</tspan><tspan x="432">int(10)</tspan><tspan x="505" class="k">商户支付类型编号</tspan><tspan x="593">&lt;fk&gt;</tspan></text>
<text y="1798.5"><tspan x="369">prefix</tspan><tspan x="432">varchar(20)</tspan><tspan x="505" class="k">马甲前缀</tspan></text>
<text y="1809.5"><tspan x="369">param</tspan><tspan x="432">varchar(1000)</tspan><tspan x="505" class="k">马甲参数配置</tspan></text>
</g>
</svg>
